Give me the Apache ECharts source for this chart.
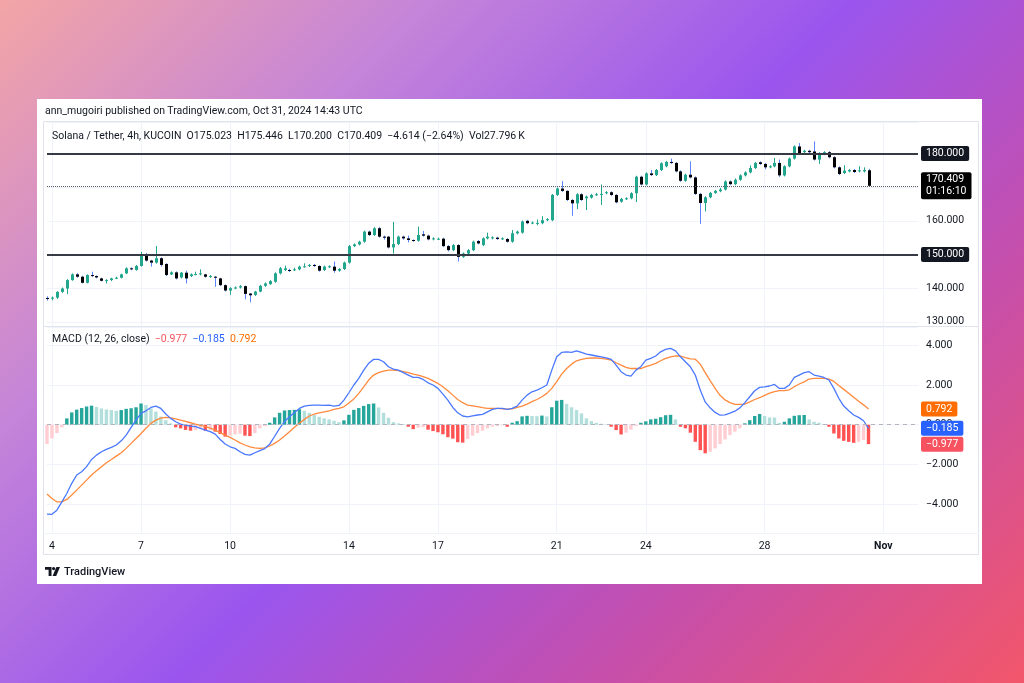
<!DOCTYPE html>
<html>
<head>
<meta charset="utf-8">
<script src="https://cdn.jsdelivr.net/npm/echarts@6/dist/echarts.min.js"></script>
<style>
  html, body { margin: 0; padding: 0; }
  body {
    width: 1024px; height: 683px; overflow: hidden; position: relative;
    background: linear-gradient(135deg, #f3a5a5 0%, #c585d8 25%, #9a55ee 50%, #c84fa8 76%, #f2566a 100%);
    font-family: Roboto, "Noto Sans", sans-serif;
  }
  #card { position: absolute; left: 37px; top: 99px; width: 945px; height: 485px; background: #fff; }
  #chart { position: absolute; left: 0; top: 0; width: 1024px; height: 683px; }
  #publ { position: absolute; left: 45px; top: 104px; font-size: 10.5px; color: #131722; white-space: nowrap; }
  #footer { position: absolute; left: 45px; top: 564px; height: 14px; display: flex; align-items: center; color: #131722; font-size: 11px; font-weight: 500; }
  #footer svg { margin-right: 4px; }
</style>
</head>
<body>
<div id="card"></div>
<div id="chart"></div>
<div id="publ">ann_mugoiri published on TradingView.com, Oct 31, 2024 14:43 UTC</div>
<div id="footer">
  <svg width="15" height="9" viewBox="0 0 15 9"><path d="M0 0h6.5v9H3.6V2.8H0z" fill="#131722"/><circle cx="8.6" cy="1.6" r="1.6" fill="#131722"/><path d="M11.4 0H15l-3.8 9H7.6z" fill="#131722"/></svg>
  <span>TradingView</span>
</div>
<script>
// 4h candles, Oct 3 20:00 -> Oct 31 12:00 (UTC): [open, close, low, high]
const candles = [
  [137.1,136.9,136.3,137.6],[136.9,137.2,136.4,137.5],[137.2,138.9,136.8,139.1],[138.9,139.9,138.6,140.2],
  [139.9,142.4,138.2,142.7],[142.4,144.1,142.2,144.4],[144.1,143.4,143.1,144.5],[143.4,141.6,141.4,143.7],
  [141.6,143.9,141.4,144.1],[143.9,143.6,143.3,144.9],[143.6,143.2,142.9,143.8],[142.9,142.2,142.0,143.1],
  [142.3,142.4,141.4,142.7],[142.4,142.9,142.1,143.1],[142.9,143.1,142.7,143.4],[143.1,144.1,142.9,144.3],
  [144.4,145.9,144.2,146.2],[145.9,145.6,145.3,146.2],[145.4,146.6,145.2,146.9],[146.6,150.1,146.4,150.8],
  [150.1,148.2,147.9,150.5],[148.2,147.6,146.4,148.4],[147.6,148.9,147.3,152.5],[148.9,146.9,146.4,149.2],
  [147.2,143.9,143.6,147.4],[144.1,144.7,143.9,145.0],[144.7,142.9,142.6,145.0],[143.2,144.6,142.9,144.8],
  [144.6,142.9,141.4,145.2],[143.6,144.1,143.3,144.4],[144.1,144.2,143.8,144.9],[144.1,144.4,143.8,145.6],
  [144.1,143.4,143.1,144.3],[143.4,143.6,143.1,143.9],[143.4,143.1,140.4,143.6],[142.9,140.9,140.6,143.1],
  [140.9,139.3,139.0,141.1],[139.3,140.0,138.0,140.3],[140.0,140.2,139.7,140.5],[140.2,140.6,139.9,140.9],
  [140.6,138.3,136.7,140.8],[138.4,137.9,135.8,138.6],[138.0,139.0,137.7,139.2],[139.0,140.7,138.8,141.0],
  [140.7,141.4,140.4,141.7],[141.2,142.1,141.0,142.4],[141.9,144.4,141.6,144.7],[144.4,145.9,144.1,146.3],
  [145.4,145.9,145.1,146.7],[145.4,145.1,144.8,145.8],[145.4,145.6,145.1,146.1],[145.6,146.4,145.3,146.7],
  [146.4,146.5,146.1,147.4],[146.6,146.9,146.3,147.2],[146.9,146.6,146.3,147.2],[146.6,145.2,144.9,146.8],
  [145.4,146.4,145.1,146.7],[146.3,146.5,146.0,146.8],[146.4,145.2,144.6,147.9],[145.2,145.7,144.9,146.0],
  [145.7,147.6,145.4,147.9],[147.6,152.5,147.3,152.8],[152.5,153.0,152.2,153.3],[153.0,153.8,152.7,154.1],
  [153.8,156.8,153.5,157.1],[156.8,155.8,155.5,157.1],[155.8,157.8,155.5,158.1],[157.8,155.3,155.0,158.2],
  [155.3,155.0,154.4,155.6],[155.3,152.1,151.8,155.5],[152.1,153.1,150.3,159.7],[153.1,155.3,152.8,155.6],
  [155.3,154.8,154.4,155.6],[154.8,154.3,153.6,155.6],[154.3,154.1,153.8,154.5],[154.1,155.8,153.8,158.3],
  [156.0,155.6,155.3,157.0],[155.6,154.5,154.2,155.9],[154.5,154.8,154.2,155.1],[154.6,154.7,154.3,155.0],
  [154.7,152.5,152.2,155.0],[152.5,151.3,150.9,152.8],[151.3,152.8,151.0,153.1],[152.8,149.3,147.9,153.1],
  [149.3,150.3,149.0,150.6],[150.3,151.3,150.0,151.6],[151.3,153.8,151.0,154.1],[154.0,153.3,153.0,154.3],
  [152.8,154.8,152.5,155.1],[154.8,155.3,154.5,156.5],[154.8,155.1,154.5,155.4],[155.0,154.6,154.3,155.3],
  [154.6,154.8,154.3,155.1],[154.6,153.8,153.5,154.9],[153.8,156.3,153.5,157.3],[156.3,156.8,156.0,157.1],
  [156.5,159.8,156.2,160.1],[160.0,159.3,159.0,160.3],[159.3,159.5,159.0,159.8],[159.3,159.4,158.7,160.4],
  [159.3,160.2,159.0,161.4],[160.2,160.5,159.9,160.8],[160.2,167.7,159.9,168.0],[167.7,169.6,167.4,169.9],
  [169.6,168.9,168.6,171.8],[168.9,166.2,165.9,169.1],[166.2,165.2,161.5,166.5],[165.2,167.9,163.5,168.2],
  [167.9,166.2,165.9,168.2],[166.7,167.2,163.2,167.5],[166.9,167.7,166.6,168.0],[167.7,167.9,167.4,168.3],
  [167.9,168.0,164.7,170.8],[168.2,168.5,167.9,168.8],[168.5,167.7,167.4,168.8],[167.7,165.5,165.2,167.9],
  [165.7,166.5,165.4,166.8],[166.5,166.7,166.2,167.0],[166.7,168.2,166.4,168.5],[168.2,173.1,165.6,173.4],
  [173.1,170.8,170.5,173.4],[170.8,174.1,170.5,174.4],[174.1,173.6,173.3,175.1],[173.6,175.1,173.3,175.4],
  [175.1,177.1,174.8,177.4],[176.2,177.5,175.9,177.8],[177.5,177.2,176.9,178.5],[177.2,174.7,174.4,177.5],
  [174.7,171.9,171.6,175.0],[171.9,173.7,171.6,174.0],[173.7,172.9,172.6,177.7],[172.9,168.0,167.7,173.2],
  [168.0,165.3,159.1,168.3],[165.3,167.0,162.8,167.3],[167.0,168.3,166.7,168.6],[168.3,168.9,168.0,169.2],
  [168.8,169.3,168.5,169.8],[169.3,171.7,169.0,172.0],[171.7,170.9,170.6,172.0],[170.9,172.2,170.6,172.6],
  [172.2,173.5,171.9,173.8],[173.5,174.4,173.2,174.7],[174.4,175.7,174.1,176.5],[175.7,177.2,175.4,177.5],
  [177.4,176.9,176.6,177.7],[176.9,175.9,175.3,177.2],[175.9,176.2,175.6,176.5],[176.2,177.2,175.9,178.7],
  [177.2,173.5,173.0,178.2],[173.5,176.2,173.2,176.5],[176.2,178.5,175.9,178.8],[178.5,182.1,178.2,182.4],
  [182.1,180.1,179.8,183.1],[180.4,180.8,180.1,181.1],[180.8,180.4,180.1,181.1],[180.6,178.2,177.9,183.6],
  [178.2,180.1,176.9,180.4],[179.8,180.4,179.5,180.7],[180.4,178.9,178.6,180.7],[178.9,175.9,175.6,179.2],
  [175.9,173.9,173.6,176.2],[174.2,174.9,173.9,176.5],[174.7,175.1,174.4,175.4],[175.1,174.5,174.2,175.4],
  [174.7,175.0,174.4,176.2],[174.7,175.1,174.4,175.9],[175.023,170.409,170.200,175.446]
];

const macdLine = [
  -4.50,-4.51,-4.30,-3.88,-3.46,-2.95,-2.53,-2.37,-2.11,-1.75,
  -1.53,-1.36,-1.24,-1.14,-1.02,-0.81,-0.52,-0.13,0.23,0.57,
  0.70,0.87,0.94,0.82,0.54,0.32,0.15,0.03,-0.02,-0.07,
  -0.10,-0.18,-0.27,-0.35,-0.47,-0.74,-0.97,-1.11,-1.19,-1.36,
  -1.49,-1.53,-1.41,-1.30,-1.20,-0.98,-0.58,-0.18,0.16,0.40,
  0.62,0.82,0.94,0.97,0.99,0.99,0.97,0.99,0.94,0.97,
  1.24,1.61,2.00,2.33,2.75,3.09,3.29,3.29,3.17,2.92,
  2.80,2.75,2.62,2.50,2.38,2.38,2.28,2.11,2.00,1.83,
  1.54,1.24,0.87,0.60,0.44,0.40,0.45,0.49,0.52,0.65,
  0.77,0.82,0.82,0.77,0.82,0.94,1.24,1.49,1.66,1.74,
  1.86,2.00,2.75,3.42,3.64,3.67,3.64,3.72,3.64,3.56,
  3.51,3.46,3.42,3.37,3.29,3.00,2.67,2.50,2.45,2.75,
  2.92,3.25,3.34,3.46,3.67,3.79,3.84,3.72,3.42,3.17,
  2.92,2.50,1.75,1.15,0.85,0.62,0.48,0.50,0.58,0.68,
  0.85,1.11,1.41,1.71,1.88,1.91,1.95,2.03,1.83,1.83,
  2.00,2.38,2.50,2.62,2.67,2.50,2.45,2.38,2.25,1.83,
  1.33,0.94,0.70,0.49,0.37,0.20,-0.185
];

const signalLine = [
  -3.49,-3.71,-3.88,-3.88,-3.76,-3.54,-3.29,-3.04,-2.79,-2.53,
  -2.32,-2.11,-1.91,-1.75,-1.58,-1.41,-1.19,-0.94,-0.69,-0.44,
  -0.18,0.07,0.23,0.33,0.37,0.35,0.30,0.23,0.17,0.10,
  0.03,-0.03,-0.10,-0.17,-0.27,-0.40,-0.52,-0.64,-0.77,-0.91,
  -1.02,-1.11,-1.16,-1.19,-1.16,-1.07,-0.94,-0.77,-0.57,-0.35,
  -0.13,0.07,0.27,0.44,0.54,0.60,0.65,0.70,0.77,0.82,
  0.90,1.10,1.30,1.58,1.91,2.25,2.50,2.62,2.70,2.75,
  2.75,2.72,2.67,2.62,2.55,2.50,2.42,2.33,2.21,2.08,
  1.91,1.71,1.49,1.27,1.11,0.99,0.95,0.91,0.86,0.82,
  0.82,0.82,0.80,0.79,0.80,0.87,0.94,1.04,1.16,1.27,
  1.41,1.58,1.83,2.17,2.55,2.83,3.05,3.22,3.29,3.34,
  3.36,3.36,3.34,3.30,3.25,3.12,3.00,2.89,2.83,2.83,
  2.83,2.92,3.00,3.09,3.22,3.34,3.42,3.47,3.46,3.38,
  3.32,3.30,3.05,2.62,2.22,1.83,1.48,1.25,1.11,1.03,
  1.02,1.04,1.15,1.27,1.36,1.48,1.59,1.67,1.72,1.72,
  1.76,1.91,2.05,2.16,2.30,2.33,2.33,2.33,2.30,2.18,
  1.98,1.78,1.58,1.38,1.18,1.00,0.792
];

const histogram = [
  -0.97,-0.69,-0.42,-0.13,0.32,0.62,0.76,0.84,0.92,0.96,
  0.90,0.82,0.77,0.74,0.70,0.74,0.80,0.83,0.88,1.07,
  0.99,0.82,0.66,0.42,0.23,0.07,-0.13,-0.18,-0.26,-0.30,
  -0.27,-0.18,-0.30,-0.27,-0.35,-0.47,-0.60,-0.55,-0.48,-0.45,
  -0.55,-0.57,-0.42,-0.18,-0.07,0.10,0.37,0.60,0.72,0.74,
  0.75,0.78,0.70,0.60,0.49,0.40,0.32,0.27,0.20,0.13,
  0.22,0.50,0.75,0.84,0.95,1.04,1.07,0.87,0.60,0.35,
  0.13,0.07,0.03,-0.10,-0.22,-0.15,-0.12,-0.25,-0.32,-0.38,
  -0.48,-0.63,-0.70,-0.88,-0.90,-0.72,-0.55,-0.42,-0.30,-0.18,
  -0.10,-0.07,-0.03,-0.10,0.10,0.18,0.42,0.45,0.44,0.43,
  0.46,0.42,0.88,1.21,1.25,1.05,0.88,0.74,0.57,0.32,
  0.18,0.10,0.05,0.02,-0.10,-0.27,-0.49,-0.40,-0.25,-0.07,
  0.10,0.17,0.27,0.30,0.38,0.48,0.50,0.27,-0.10,-0.18,
  -0.40,-0.86,-1.28,-1.44,-1.36,-1.19,-0.97,-0.74,-0.52,-0.35,
  -0.18,0.07,0.23,0.44,0.54,0.44,0.37,0.36,0.10,0.15,
  0.32,0.45,0.48,0.49,0.27,0.15,0.10,0.03,-0.10,-0.44,
  -0.69,-0.81,-0.86,-0.91,-0.86,-0.77,-0.977
];

// time axis: labelled days and the bar index each falls on
const dayLabels = ['4', '7', '10', '14', '17', '21', '24', '28', 'Nov'];
const dayLabelIndex = [1, 19, 37, 61, 79, 103, 121, 145, 169];

const supportLevels = [180, 150];
const lastPrice = 170.409;
const lastCountdown = '01:16:10';
const macdLast = { hist: -0.977, macd: -0.185, signal: 0.792 };

// 4h slots, including empty room on the right like TradingView
const slotCount = 177;
const times = [];
for (let i = 0; i < slotCount; i++) {
  const d = new Date(Date.UTC(2024, 9, 3, 20) + i * 4 * 3600 * 1000);
  times.push(d.toISOString().slice(0, 16).replace('T', ' '));
}

const FONT = 'Roboto, "Noto Sans", sans-serif';
const TEXT = '#131722';
const GRID = '#f0f3fa';
const UP = '#22a68e';
const DOWN = '#000000';
const WICK_DOWN = '#5d85ff';

const fmtNum = (v) => (v < 0 ? '\u2212' : '') + Math.abs(v).toFixed(3);
const isDay = (index) => dayLabelIndex.indexOf(index) !== -1;

const chart = echarts.init(document.getElementById('chart'));

function renderCandle(params, api) {
  const i = api.value(0);
  const o = api.value(1), c = api.value(2), lo = api.value(3), hi = api.value(4);
  const pO = api.coord([i, o]);
  const pC = api.coord([i, c]);
  const yL = api.coord([i, lo])[1];
  const yH = api.coord([i, hi])[1];
  const x = Math.round(pO[0]);
  const up = c >= o;
  const top = Math.min(pO[1], pC[1]);
  const h = Math.max(Math.abs(pO[1] - pC[1]), 1);
  return {
    type: 'group',
    children: [
      { type: 'line', shape: { x1: x + 0.5, y1: yH, x2: x + 0.5, y2: yL }, style: { stroke: up ? UP : WICK_DOWN, lineWidth: 1 } },
      { type: 'rect', shape: { x: x - 1, y: top, width: 3, height: h }, style: { fill: up ? UP : DOWN } }
    ]
  };
}

function boxLabel(text, bg) {
  return {
    show: true, position: 'end', distance: 3, formatter: text,
    color: '#fff', backgroundColor: bg, padding: [2, 5, 1, 5], borderRadius: 2,
    fontSize: 10.5, fontFamily: FONT, lineHeight: 12
  };
}

const histColor = (p) => {
  const v = p.value;
  const prev = p.dataIndex > 0 ? histogram[p.dataIndex - 1] : -Infinity;
  if (v >= 0) return v > prev ? '#26a69a' : '#b2dfdb';
  return v > prev ? '#ffcdd2' : '#ff5252';
};

const xCommon = {
  type: 'category', data: times, boundaryGap: false,
  axisLine: { show: false }, axisTick: { show: false },
  splitLine: { show: true, interval: isDay, lineStyle: { color: GRID, width: 1 } }
};

const option = {
  animation: false,
  grid: [
    { left: 47, top: 122, width: 871, height: 205 },
    { left: 47, top: 327, width: 871, height: 206 }
  ],
  xAxis: [
    Object.assign({}, xCommon, { gridIndex: 0, axisLabel: { show: false } }),
    Object.assign({}, xCommon, {
      gridIndex: 1,
      axisLabel: {
        show: true, interval: isDay, margin: 8, color: TEXT, fontSize: 10.5, fontFamily: FONT,
        formatter: (v, idx) => {
          const t = dayLabels[dayLabelIndex.indexOf(idx)] || '';
          return t === 'Nov' ? '{b|Nov}' : t;
        },
        rich: { b: { fontWeight: 'bold', fontSize: 10.5, fontFamily: FONT, color: TEXT } }
      }
    })
  ],
  yAxis: [
    {
      type: 'value', gridIndex: 0, position: 'right', min: 128.47, max: 189.36, splitNumber: 6,
      axisLine: { show: false }, axisTick: { show: false },
      axisLabel: { margin: 8, color: TEXT, fontSize: 10.5, fontFamily: FONT, showMinLabel: false, showMaxLabel: false, formatter: fmtNum },
      splitLine: { lineStyle: { color: GRID } }
    },
    {
      type: 'value', gridIndex: 1, position: 'right', min: -5.45, max: 4.92, splitNumber: 5,
      axisLine: { show: false }, axisTick: { show: false },
      axisLabel: { margin: 8, color: TEXT, fontSize: 10.5, fontFamily: FONT, showMinLabel: false, showMaxLabel: false, formatter: fmtNum },
      splitLine: { lineStyle: { color: GRID } }
    }
  ],
  graphic: [
    { type: 'rect', z: -1, shape: { x: 43.5, y: 121.5, width: 935, height: 433 }, style: { fill: 'none', stroke: '#e0e3eb', lineWidth: 1 } },
    { type: 'line', z: 10, shape: { x1: 43, y1: 326.5, x2: 979, y2: 326.5 }, style: { stroke: '#e0e3eb', lineWidth: 1 } },
    { type: 'line', z: 10, shape: { x1: 43, y1: 533.5, x2: 979, y2: 533.5 }, style: { stroke: '#f0f3fa', lineWidth: 1 } },
    {
      type: 'text', left: 52, top: 131, z: 20,
      style: {
        text: 'Solana / Tether, 4h, KUCOIN  O175.023  H175.446  L170.200  C170.409  \u22124.614 (\u22122.64%)  Vol27.796\u2009K',
        fill: TEXT, font: '10.5px ' + FONT
      }
    },
    {
      type: 'text', left: 52, top: 334, z: 20,
      style: {
        text: '{n|MACD (12, 26, close)}  {r|' + fmtNum(macdLast.hist) + '}  {b|' + fmtNum(macdLast.macd) + '}  {o|' + fmtNum(macdLast.signal) + '}',
        font: '10.5px ' + FONT,
        rich: {
          n: { fill: TEXT, font: '10.5px ' + FONT },
          r: { fill: '#f7525f', font: '10.5px ' + FONT },
          b: { fill: '#2962ff', font: '10.5px ' + FONT },
          o: { fill: '#ff6d00', font: '10.5px ' + FONT }
        }
      }
    }
  ],
  series: [
    {
      type: 'custom', name: 'SOLUSDT', xAxisIndex: 0, yAxisIndex: 0,
      data: candles.map((c, i) => [i].concat(c)),
      encode: { x: 0, y: [1, 2, 3, 4] },
      renderItem: renderCandle,
      markLine: {
        silent: true, symbol: ['none', 'none'],
        data: [
          { yAxis: supportLevels[0], lineStyle: { color: '#363a45', width: 2, type: 'solid' }, label: boxLabel(fmtNum(supportLevels[0]), '#131722') },
          { yAxis: supportLevels[1], lineStyle: { color: '#363a45', width: 2, type: 'solid' }, label: boxLabel(fmtNum(supportLevels[1]), '#131722') },
          { yAxis: lastPrice, lineStyle: { color: '#5d606b', width: 1, type: 'dotted' }, label: boxLabel(lastPrice.toFixed(3) + '\n' + lastCountdown, '#000000') }
        ]
      }
    },
    {
      type: 'bar', name: 'Histogram', xAxisIndex: 1, yAxisIndex: 1,
      data: histogram, barWidth: 3.4, clip: false,
      itemStyle: { color: histColor },
      markLine: {
        silent: true, symbol: ['none', 'none'],
        data: [
          { yAxis: 0, lineStyle: { color: '#b2b5be', width: 1, type: [4, 4] }, label: { show: false } },
          { yAxis: macdLast.signal, lineStyle: { color: 'rgba(0,0,0,0)', width: 0 }, label: boxLabel(fmtNum(macdLast.signal), '#ff6d00') },
          { yAxis: macdLast.macd, lineStyle: { color: 'rgba(0,0,0,0)', width: 0 }, label: boxLabel(fmtNum(macdLast.macd), '#2962ff') },
          { yAxis: macdLast.hist, lineStyle: { color: 'rgba(0,0,0,0)', width: 0 }, label: boxLabel(fmtNum(macdLast.hist), '#f7525f') }
        ]
      }
    },
    {
      type: 'line', name: 'Signal', xAxisIndex: 1, yAxisIndex: 1, data: signalLine,
      showSymbol: false, symbol: 'none', lineStyle: { color: '#ff8a3d', width: 1.3 }
    },
    {
      type: 'line', name: 'MACD', xAxisIndex: 1, yAxisIndex: 1, data: macdLine,
      showSymbol: false, symbol: 'none', lineStyle: { color: '#4a78ff', width: 1.3 }
    }
  ]
};

chart.setOption(option);
</script>
</body>
</html>
